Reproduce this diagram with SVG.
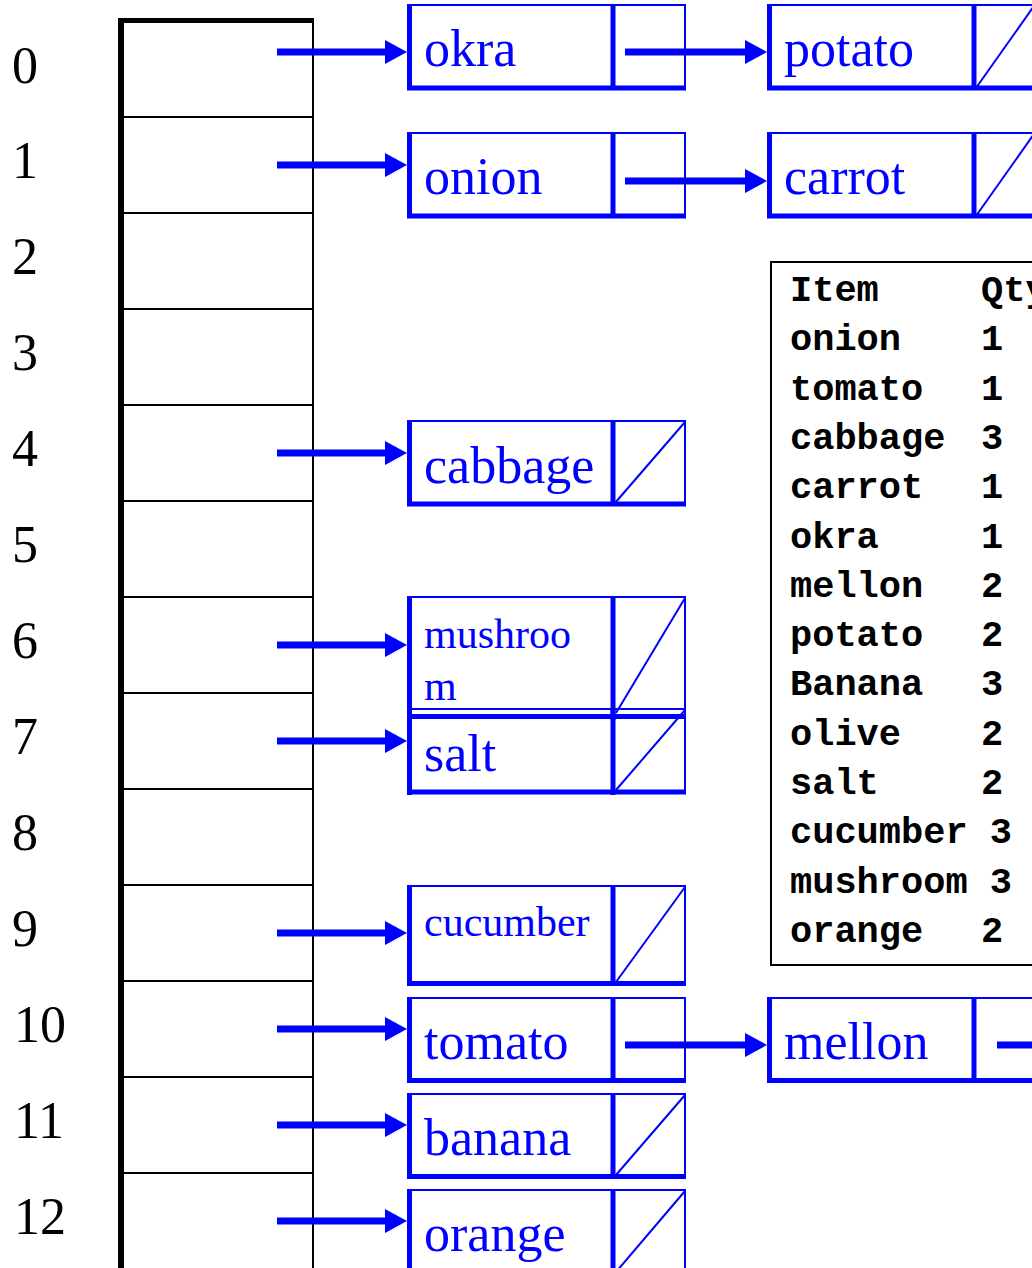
<svg xmlns="http://www.w3.org/2000/svg" width="1032" height="1268" viewBox="0 0 1032 1268">
  <style>
    .frame { fill: none; stroke: #0000ff; stroke-width: 2; }
    .heavy { stroke: #0000ff; stroke-width: 5; fill: none; }
    .slash { stroke: #0000ff; stroke-width: 2; fill: none; }
    .lbl { font-family: "Liberation Serif", "Times New Roman", serif; font-size: 52px; fill: #0000ff; }
    .lbl-sm { font-family: "Liberation Serif", "Times New Roman", serif; font-size: 42px; fill: #0000ff; }
    .idx { font-family: "Liberation Serif", "Times New Roman", serif; font-size: 52px; fill: #000; }
    .ptr { stroke: #0000ff; stroke-width: 7; fill: none; marker-end: url(#head); }
    .cell { stroke: #000; stroke-width: 2; fill: none; }
    .tbl { font-family: "Liberation Mono", "Courier New", monospace; font-size: 37px; font-weight: bold; fill: #000; }
  </style>
  <defs>
    <marker id="head" viewBox="0 0 22 24" refX="12" refY="12" markerWidth="22" markerHeight="24" markerUnits="userSpaceOnUse" orient="auto">
      <path d="M0,0 L22,12 L0,24 Z" fill="#0000ff"/>
    </marker>
  </defs>

  <rect width="1032" height="1268" fill="#ffffff"/>

  <!-- hash table array -->
  <g id="table">
    <line x1="121" y1="18" x2="121" y2="1270" stroke="#000" stroke-width="6"/>
    <line x1="118" y1="20.5" x2="314" y2="20.5" stroke="#000" stroke-width="5"/>
    <line x1="313" y1="18" x2="313" y2="1270" class="cell"/>
    <line x1="121" y1="117" x2="313" y2="117" class="cell"/>
    <line x1="121" y1="213" x2="313" y2="213" class="cell"/>
    <line x1="121" y1="309" x2="313" y2="309" class="cell"/>
    <line x1="121" y1="405" x2="313" y2="405" class="cell"/>
    <line x1="121" y1="501" x2="313" y2="501" class="cell"/>
    <line x1="121" y1="597" x2="313" y2="597" class="cell"/>
    <line x1="121" y1="693" x2="313" y2="693" class="cell"/>
    <line x1="121" y1="789" x2="313" y2="789" class="cell"/>
    <line x1="121" y1="885" x2="313" y2="885" class="cell"/>
    <line x1="121" y1="981" x2="313" y2="981" class="cell"/>
    <line x1="121" y1="1077" x2="313" y2="1077" class="cell"/>
    <line x1="121" y1="1173" x2="313" y2="1173" class="cell"/>
  </g>

  <!-- bucket indices -->
  <g id="indices">
    <text class="idx" x="12" y="83">0</text>
    <text class="idx" x="12" y="178">1</text>
    <text class="idx" x="12" y="274">2</text>
    <text class="idx" x="12" y="370">3</text>
    <text class="idx" x="12" y="466">4</text>
    <text class="idx" x="12" y="562">5</text>
    <text class="idx" x="12" y="658">6</text>
    <text class="idx" x="12" y="754">7</text>
    <text class="idx" x="12" y="850">8</text>
    <text class="idx" x="12" y="946">9</text>
    <text class="idx" x="14" y="1042">10</text>
    <text class="idx" x="14" y="1138">11</text>
    <text class="idx" x="14" y="1234">12</text>
  </g>

  <!-- list nodes -->
  <g id="node-okra">
    <rect class="frame" x="408" y="5" width="277" height="84"/>
    <line class="heavy" x1="409.5" y1="4" x2="409.5" y2="90"/>
    <line class="heavy" x1="407" y1="88" x2="686" y2="88"/>
    <line class="heavy" x1="613" y1="4" x2="613" y2="90"/>
    <text class="lbl" x="424" y="66">okra</text>
  </g>
  <g id="node-potato">
    <rect class="frame" x="768" y="5" width="290" height="84"/>
    <line class="heavy" x1="769.5" y1="4" x2="769.5" y2="90"/>
    <line class="heavy" x1="767" y1="88" x2="1040" y2="88"/>
    <line class="heavy" x1="974" y1="4" x2="974" y2="90"/>
    <line class="slash" x1="976" y1="88" x2="1034" y2="6"/>
    <text class="lbl" x="784" y="66">potato</text>
  </g>
  <g id="node-onion">
    <rect class="frame" x="408" y="133" width="277" height="84"/>
    <line class="heavy" x1="409.5" y1="132" x2="409.5" y2="218"/>
    <line class="heavy" x1="407" y1="216" x2="686" y2="216"/>
    <line class="heavy" x1="613" y1="132" x2="613" y2="218"/>
    <text class="lbl" x="424" y="194">onion</text>
  </g>
  <g id="node-carrot">
    <rect class="frame" x="768" y="133" width="290" height="84"/>
    <line class="heavy" x1="769.5" y1="132" x2="769.5" y2="218"/>
    <line class="heavy" x1="767" y1="216" x2="1040" y2="216"/>
    <line class="heavy" x1="974" y1="132" x2="974" y2="218"/>
    <line class="slash" x1="976" y1="216" x2="1034" y2="134"/>
    <text class="lbl" x="784" y="194">carrot</text>
  </g>
  <g id="node-cabbage">
    <rect class="frame" x="408" y="421" width="277" height="84"/>
    <line class="heavy" x1="409.5" y1="420" x2="409.5" y2="506"/>
    <line class="heavy" x1="407" y1="504" x2="686" y2="504"/>
    <line class="heavy" x1="613" y1="420" x2="613" y2="506"/>
    <line class="slash" x1="615" y1="503" x2="685" y2="422"/>
    <text class="lbl" x="424" y="483">cabbage</text>
  </g>
  <g id="node-mushroom">
    <rect class="frame" x="408" y="597" width="277" height="121"/>
    <line class="heavy" x1="409.5" y1="596" x2="409.5" y2="720"/>
    <line class="heavy" x1="407" y1="716.5" x2="686" y2="716.5"/>
    <line class="heavy" x1="613" y1="596" x2="613" y2="720"/>
    <line class="slash" x1="616" y1="713" x2="685" y2="598"/>
    <text class="lbl-sm" x="424" y="648">mushroo</text>
    <text class="lbl-sm" x="424" y="700">m</text>
  </g>
  <g id="node-salt">
    <rect class="frame" x="408" y="709" width="277" height="84"/>
    <line class="heavy" x1="409.5" y1="708" x2="409.5" y2="795"/>
    <line class="heavy" x1="407" y1="792" x2="686" y2="792"/>
    <line class="heavy" x1="613" y1="708" x2="613" y2="795"/>
    <line class="slash" x1="616" y1="790" x2="685" y2="710"/>
    <text class="lbl" x="424" y="771">salt</text>
  </g>
  <g id="node-cucumber">
    <rect class="frame" x="408" y="886" width="277" height="99"/>
    <line class="heavy" x1="409.5" y1="885" x2="409.5" y2="986"/>
    <line class="heavy" x1="407" y1="983.5" x2="686" y2="983.5"/>
    <line class="heavy" x1="613" y1="885" x2="613" y2="986"/>
    <line class="slash" x1="616" y1="982" x2="685" y2="887"/>
    <text class="lbl-sm" x="424" y="936">cucumber</text>
  </g>
  <g id="node-tomato">
    <rect class="frame" x="408" y="998" width="277" height="84"/>
    <line class="heavy" x1="409.5" y1="997" x2="409.5" y2="1083"/>
    <line class="heavy" x1="407" y1="1080.5" x2="686" y2="1080.5"/>
    <line class="heavy" x1="613" y1="997" x2="613" y2="1083"/>
    <text class="lbl" x="424" y="1059">tomato</text>
  </g>
  <g id="node-mellon">
    <rect class="frame" x="768" y="998" width="290" height="84"/>
    <line class="heavy" x1="769.5" y1="997" x2="769.5" y2="1083"/>
    <line class="heavy" x1="767" y1="1080.5" x2="1040" y2="1080.5"/>
    <line class="heavy" x1="974" y1="997" x2="974" y2="1083"/>
    <text class="lbl" x="784" y="1059">mellon</text>
  </g>
  <g id="node-banana">
    <rect class="frame" x="408" y="1094" width="277" height="84"/>
    <line class="heavy" x1="409.5" y1="1093" x2="409.5" y2="1179"/>
    <line class="heavy" x1="407" y1="1176.5" x2="686" y2="1176.5"/>
    <line class="heavy" x1="613" y1="1093" x2="613" y2="1179"/>
    <line class="slash" x1="616" y1="1175" x2="685" y2="1095"/>
    <text class="lbl" x="424" y="1155">banana</text>
  </g>
  <g id="node-orange">
    <rect class="frame" x="408" y="1190" width="277" height="90"/>
    <line class="heavy" x1="409.5" y1="1189" x2="409.5" y2="1270"/>
    <line class="heavy" x1="613" y1="1189" x2="613" y2="1270"/>
    <line class="slash" x1="616" y1="1272" x2="685" y2="1191"/>
    <text class="lbl" x="424" y="1251">orange</text>
  </g>

  <!-- item / quantity listing -->
  <g id="inventory">
    <rect x="771" y="262" width="300" height="703" fill="none" stroke="#000" stroke-width="2"/>
    <text class="tbl" x="790" y="301">Item</text><text class="tbl" x="981" y="301">Qty</text>
    <text class="tbl" x="790" y="350">onion</text><text class="tbl" x="981" y="350">1</text>
    <text class="tbl" x="790" y="400">tomato</text><text class="tbl" x="981" y="400">1</text>
    <text class="tbl" x="790" y="449">cabbage</text><text class="tbl" x="981" y="449">3</text>
    <text class="tbl" x="790" y="498">carrot</text><text class="tbl" x="981" y="498">1</text>
    <text class="tbl" x="790" y="548">okra</text><text class="tbl" x="981" y="548">1</text>
    <text class="tbl" x="790" y="597">mellon</text><text class="tbl" x="981" y="597">2</text>
    <text class="tbl" x="790" y="646">potato</text><text class="tbl" x="981" y="646">2</text>
    <text class="tbl" x="790" y="695">Banana</text><text class="tbl" x="981" y="695">3</text>
    <text class="tbl" x="790" y="745">olive</text><text class="tbl" x="981" y="745">2</text>
    <text class="tbl" x="790" y="794">salt</text><text class="tbl" x="981" y="794">2</text>
    <text class="tbl" x="790" y="843">cucumber 3</text>
    <text class="tbl" x="790" y="893">mushroom 3</text>
    <text class="tbl" x="790" y="942">orange</text><text class="tbl" x="981" y="942">2</text>
  </g>

  <!-- pointers -->
  <g id="connectors">
    <line class="ptr" x1="277" y1="52" x2="397" y2="52"/>
    <line class="ptr" x1="277" y1="165" x2="397" y2="165"/>
    <line class="ptr" x1="277" y1="453" x2="397" y2="453"/>
    <line class="ptr" x1="277" y1="645" x2="397" y2="645"/>
    <line class="ptr" x1="277" y1="741" x2="397" y2="741"/>
    <line class="ptr" x1="277" y1="933" x2="397" y2="933"/>
    <line class="ptr" x1="277" y1="1029" x2="397" y2="1029"/>
    <line class="ptr" x1="277" y1="1125" x2="397" y2="1125"/>
    <line class="ptr" x1="277" y1="1221" x2="397" y2="1221"/>
    <line class="ptr" x1="625" y1="52" x2="757" y2="52"/>
    <line class="ptr" x1="625" y1="181" x2="757" y2="181"/>
    <line class="ptr" x1="625" y1="1045" x2="757" y2="1045"/>
    <line x1="997" y1="1045" x2="1040" y2="1045" stroke="#0000ff" stroke-width="7"/>
  </g>
</svg>
